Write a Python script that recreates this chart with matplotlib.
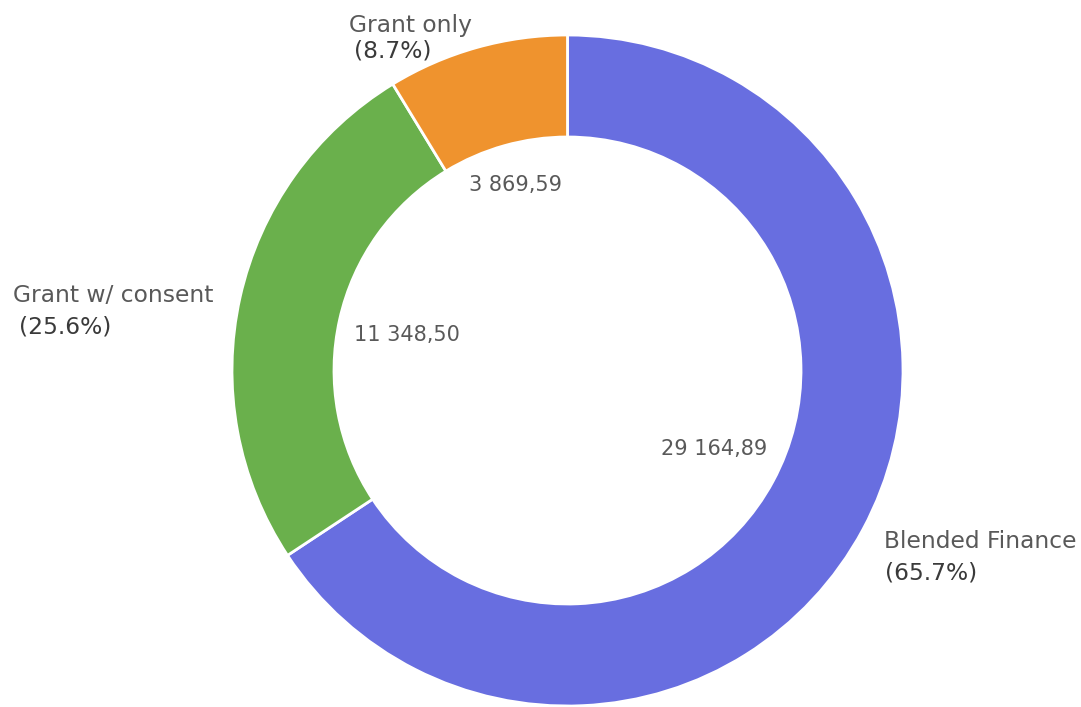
import matplotlib
matplotlib.use("Agg")
import matplotlib.pyplot as plt
import numpy as np

categories = ["Blended Finance", "Grant w/ consent", "Grant only"]
values = [29164.89, 11348.50, 3869.59]
value_labels = ["29 164,89", "11 348,50", "3 869,59"]
colors = ["#686ee0", "#6ab04c", "#ef932e"]

W, H = 1081, 707
fig = plt.figure(figsize=(W / 100, H / 100), dpi=100)
ax = fig.add_axes([0, 0, 1, 1])

cx, cy = 567.5, H - 370.5
R = 335.5
r_in = 233.5

wedges, _ = ax.pie(values, colors=colors, startangle=90, counterclock=False,
                   center=(cx, cy), radius=R, frame=True,
                   wedgeprops=dict(width=R - r_in, edgecolor="white", linewidth=2))
ax.set_xlim(0, W)
ax.set_ylim(0, H)
ax.set_aspect("equal")
ax.axis("off")

font = "DejaVu Sans"
total = sum(values)
pcts = [f"({v / total * 100:.1f}%)" for v in values]

# outer labels (category + percent): (x_name, baseline_name, x_pct, baseline_pct) in pixels from top
outer_pos = {0: (884, 548, 885, 580), 1: (13, 302, 19, 333), 2: (349, 32, 354, 58)}
for i, name in enumerate(categories):
    xn, yn, xp, yp = outer_pos[i]
    ax.text(xn, H - yn, name, ha="left", va="baseline", fontsize=16.8, color="#595959", family=font)
    ax.text(xp, H - yp, pcts[i], ha="left", va="baseline", fontsize=16.8,
            color="#3a3a3a", family=font)

# value labels inside the hole, anchored to inner edge
fig.canvas.draw()
renderer = fig.canvas.get_renderer()
target = r_in - 15
for w, lab in zip(wedges, value_labels):
    mid = np.deg2rad((w.theta1 + w.theta2) / 2)
    u = np.array([np.cos(mid), np.sin(mid)])
    t = ax.text(cx, cy, lab, ha="center", va="center", fontsize=15, color="#595959", family=font)
    bb = t.get_window_extent(renderer)
    c = np.array([np.sign(u[0]) * bb.width / 2, np.sign(u[1]) * bb.height / 2])
    uc = u @ c
    d = -uc + np.sqrt(uc ** 2 - c @ c + target ** 2)
    t.set_position((cx + d * u[0], cy + d * u[1]))

fig.savefig("out.png", dpi=100)
